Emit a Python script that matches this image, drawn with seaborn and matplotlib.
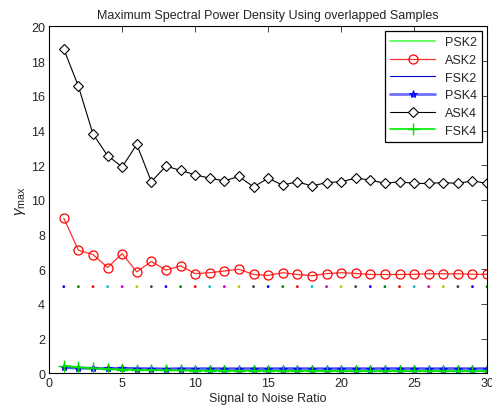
import numpy as np
import pandas as pd
import matplotlib
matplotlib.use("Agg")
import matplotlib.pyplot as plt
import seaborn as sns

# SNR axis
snr = list(range(1, 31))

# values
ask4 = [18.7, 16.55, 13.8, 12.55, 11.9, 13.2, 11.05, 11.95, 11.7, 11.45,
        11.25, 11.1, 11.35, 10.75, 11.25, 10.85, 11.05, 10.8, 11.0, 11.05,
        11.25, 11.15, 10.95, 11.05, 10.95, 10.95, 11.0, 10.95, 11.1, 10.95]
ask2 = [8.95, 7.1, 6.85, 6.1, 6.9, 5.85, 6.45, 5.95, 6.2, 5.75,
        5.8, 5.9, 6.0, 5.7, 5.65, 5.8, 5.7, 5.63, 5.75, 5.8,
        5.76, 5.7, 5.7, 5.7, 5.71, 5.74, 5.74, 5.74, 5.71, 5.71]
psk2 = [0.3, 0.28, 0.26, 0.25, 0.24, 0.23, 0.22, 0.21, 0.21, 0.2,
        0.2, 0.2, 0.19, 0.19, 0.19, 0.18, 0.18, 0.18, 0.18, 0.18,
        0.17, 0.17, 0.17, 0.17, 0.17, 0.17, 0.17, 0.17, 0.17, 0.17]
fsk2 = [0.3, 0.32, 0.3, 0.28, 0.33, 0.3, 0.29, 0.27, 0.3, 0.29,
        0.3, 0.29, 0.29, 0.3, 0.29, 0.3, 0.3, 0.29, 0.29, 0.3,
        0.3, 0.29, 0.3, 0.3, 0.3, 0.29, 0.3, 0.3, 0.29, 0.3]
psk4 = [0.35, 0.3, 0.3, 0.28, 0.3, 0.27, 0.27, 0.26, 0.27, 0.26,
        0.26, 0.26, 0.26, 0.26, 0.26, 0.26, 0.26, 0.26, 0.26, 0.26,
        0.26, 0.26, 0.26, 0.26, 0.26, 0.26, 0.26, 0.26, 0.26, 0.26]
fsk4 = [0.45, 0.35, 0.3, 0.25, 0.22, 0.2, 0.19, 0.17, 0.17, 0.16,
        0.16, 0.15, 0.15, 0.15, 0.14, 0.14, 0.14, 0.14, 0.14, 0.13,
        0.13, 0.13, 0.13, 0.13, 0.13, 0.13, 0.13, 0.13, 0.13, 0.13]
threshold = [5.0] * 30

# old matlab color order for the dotted threshold
matlab_colors = [(0, 0, 1), (0, 0.5, 0), (1, 0, 0), (0, 0.75, 0.75),
                 (0.75, 0, 0.75), (0.75, 0.75, 0), (0.25, 0.25, 0.25)]

df = pd.DataFrame({"snr": snr, "PSK2": psk2, "ASK2": ask2, "FSK2": fsk2,
                   "PSK4": psk4, "ASK4": ask4, "FSK4": fsk4, "thr": threshold})

sns.set_style("white")
plt.rcParams['font.family'] = ['Liberation Sans', 'DejaVu Sans']
plt.rcParams['mathtext.fontset'] = 'custom'
plt.rcParams['mathtext.rm'] = 'Liberation Sans'
plt.rcParams['mathtext.it'] = 'Liberation Sans:italic'

fig = plt.figure(figsize=(4.92, 4.10), dpi=100)
ax = fig.add_axes([0.1, 0.087, 0.89, 0.846])

sns.lineplot(data=df, x="snr", y="PSK2", ax=ax, color="#66ff66", lw=1.4, label="PSK2")
sns.lineplot(data=df, x="snr", y="ASK2", ax=ax, color="#ff3030", lw=0.9, marker="o",
             markersize=6.5, markerfacecolor="none", markeredgecolor="red",
             markeredgewidth=0.9, label="ASK2")
sns.lineplot(data=df, x="snr", y="FSK2", ax=ax, color="#0000cc", lw=0.8, label="FSK2")
sns.lineplot(data=df, x="snr", y="PSK4", ax=ax, color="#5555ff", lw=2.0, alpha=0.85,
             marker="*", markersize=6, markeredgecolor="blue", markerfacecolor="blue",
             label="PSK4")
sns.lineplot(data=df, x="snr", y="ASK4", ax=ax, color="black", lw=0.8, marker="D",
             markersize=5.5, markerfacecolor="white", markeredgecolor="black",
             markeredgewidth=0.8, label="ASK4")
sns.lineplot(data=df, x="snr", y="FSK4", ax=ax, color="#00ee00", lw=1.2, marker="+",
             markersize=9, markeredgecolor="#00dd00", markeredgewidth=1.0, label="FSK4")

dot_colors = [matlab_colors[i % 7] for i in range(len(snr))]
ax.scatter(df["snr"], df["thr"], c=dot_colors, s=4, zorder=1, linewidths=0)

ax.set_xlim(0, 30)
ax.set_ylim(0, 20)
ax.set_xticks(range(0, 31, 5))
ax.set_yticks(range(0, 21, 2))
ax.tick_params(direction="in", top=True, right=True, length=4, width=0.6,
               labelsize=9, pad=3)
for s in ax.spines.values():
    s.set_color("black")
    s.set_linewidth(0.8)

ax.set_title("Maximum Spectral Power Density Using overlapped Samples", fontsize=9, pad=6)
ax.set_xlabel("Signal to Noise Ratio", fontsize=9, labelpad=2)
ax.set_ylabel(r"$\gamma_{\rm max}$", fontsize=11, labelpad=2)

leg = ax.legend(loc="upper right", fontsize=9, frameon=True, fancybox=False,
                edgecolor="black", framealpha=1, handlelength=3.6,
                borderaxespad=0.4, labelspacing=0.45)
leg.get_frame().set_linewidth(0.9)

fig.savefig("out.png", dpi=100)
